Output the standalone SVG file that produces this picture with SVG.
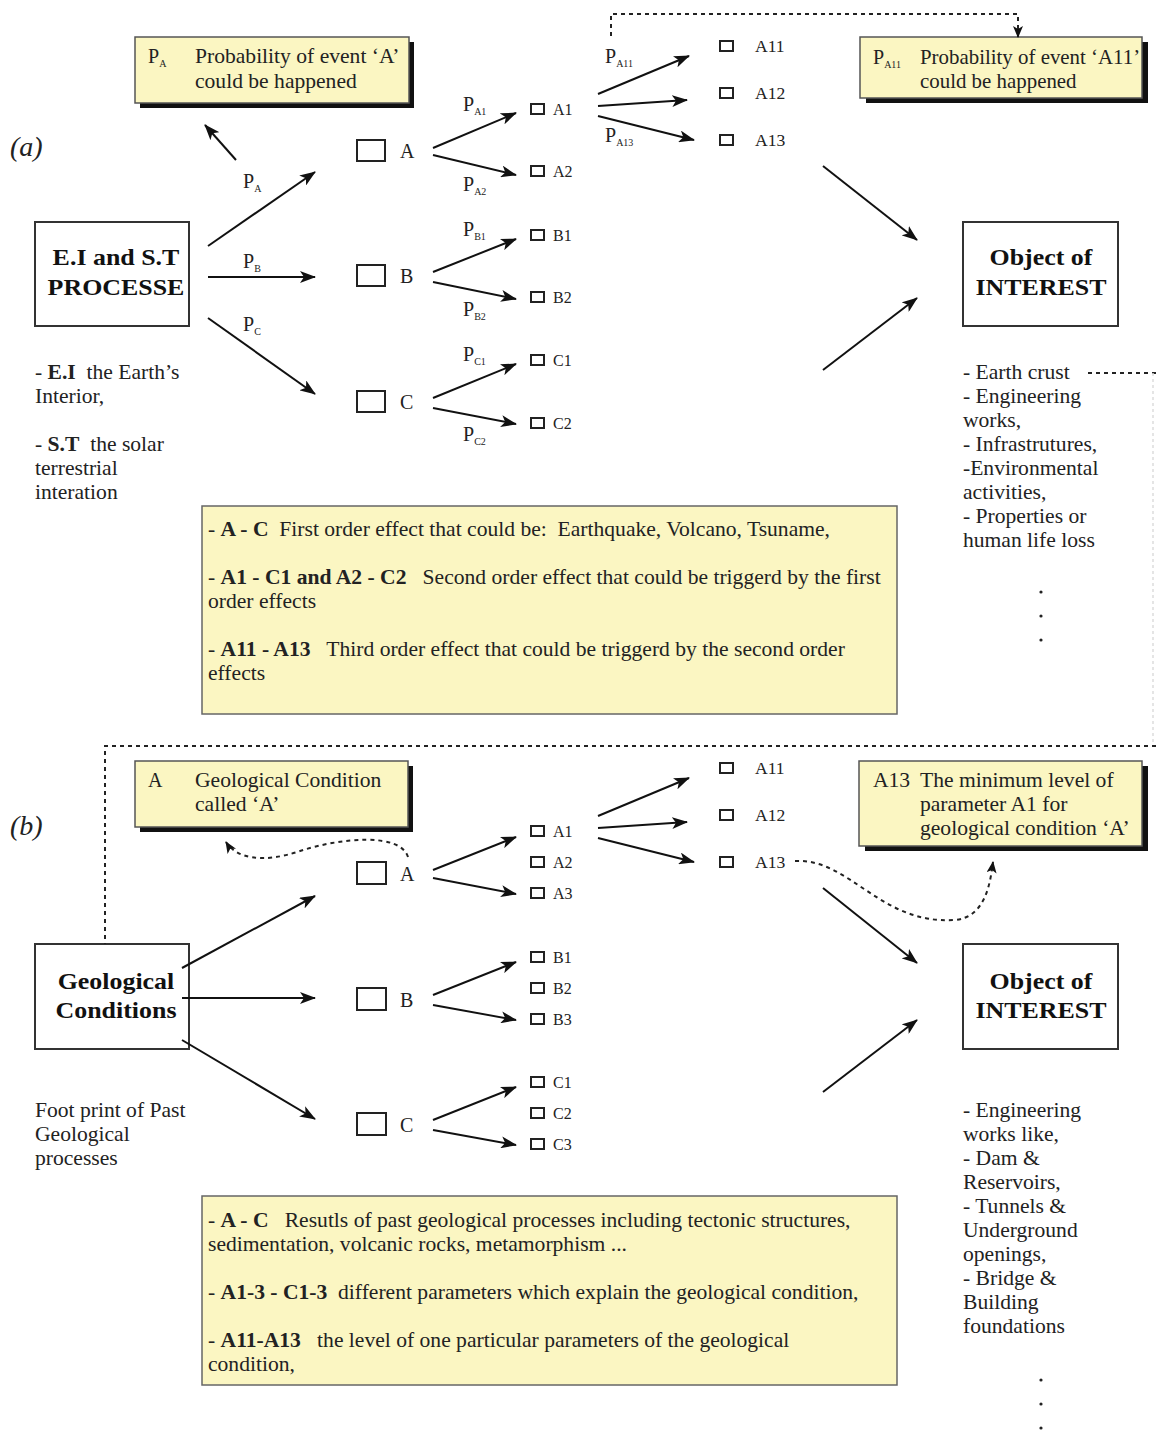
<svg xmlns="http://www.w3.org/2000/svg" width="1156" height="1430" viewBox="0 0 1156 1430" xml:space="preserve">
  <defs>
    <marker id="arr" markerUnits="userSpaceOnUse" markerWidth="16" markerHeight="12" refX="15" refY="6" orient="auto">
      <path d="M0,0 L16,6 L0,12 L4,6 z" fill="#111"/>
    </marker>
    <marker id="arrs" markerUnits="userSpaceOnUse" markerWidth="12" markerHeight="10" refX="11" refY="5" orient="auto">
      <path d="M0,0 L12,5 L0,10 L3,5 z" fill="#111"/>
    </marker>
  </defs>
  <style>
    text { font-family: "Liberation Serif", "Times New Roman", serif; fill: #222; white-space: pre; }
    .t20 { font-size: 20px; }
    .t16 { font-size: 16px; }
    .big { font-size: 24px; font-weight: bold; text-anchor: middle; fill: #111; }
    .b { font-weight: bold; }
    .sub { font-size: 10px; }
    .lbl { font-size: 28px; font-style: italic; }
    .box { fill: #fff; stroke: #333; stroke-width: 2; }
    .sq { fill: #fff; stroke: #222; stroke-width: 2; }
    .note { fill: #fbf6c2; stroke: #555; stroke-width: 1.5; }
    .shadow { fill: #111; }
    .legend { fill: #fbf6c2; stroke: #666; stroke-width: 1.5; }
    .edge { stroke: #111; stroke-width: 2; fill: none; marker-end: url(#arr); }
    .dot { stroke: #222; stroke-width: 2; fill: none; stroke-dasharray: 4 4; }
    .faint { stroke: #ddd; stroke-width: 1.5; fill: none; stroke-dasharray: 3 3; }
  </style>

  <rect width="1156" height="1430" fill="#fff"/>

  <!-- ===== Part (a) ===== -->
  <text class="lbl" x="10" y="156">(a)</text>

  <g id="note-pa">
    <rect class="shadow" x="140" y="42" width="274" height="66"/>
    <rect class="note" x="135" y="37" width="274" height="66"/>
    <text class="t20" x="148" y="63">P<tspan class="sub" dy="4">A</tspan></text>
    <g transform="matrix(1.08 0 0 1 -15.6 0)">
      <text class="t20" x="195" y="63">Probability of event ‘A’</text>
      <text class="t20" x="195" y="88">could be happened</text>
    </g>
  </g>

  <g id="note-pa11">
    <rect class="shadow" x="866" y="42" width="282" height="61"/>
    <rect class="note" x="860" y="37" width="282" height="61"/>
    <text class="t20" x="873" y="64">P<tspan class="sub" dy="4">A11</tspan></text>
    <g transform="matrix(1.045 0 0 1 -41.4 0)">
      <text class="t20" x="920" y="64">Probability of event ‘A11’</text>
      <text class="t20" x="920" y="88">could be happened</text>
    </g>
  </g>

  <g id="proc-a">
    <rect class="box" x="35" y="222" width="154" height="104"/>
    <g transform="matrix(1.08 0 0 1 -9.28 0)">
      <text class="big" x="116" y="265">E.I and S.T</text>
      <text class="big" x="116" y="295">PROCESSE</text>
    </g>
  </g>

  <g id="proc-a-desc" transform="matrix(1.08 0 0 1 -2.8 0)">
    <text class="t20" x="35" y="379">- <tspan class="b">E.I</tspan>  the Earth’s</text>
    <text class="t20" x="35" y="403">Interior,</text>
    <text class="t20" x="35" y="451">- <tspan class="b">S.T</tspan>  the solar</text>
    <text class="t20" x="35" y="475">terrestrial</text>
    <text class="t20" x="35" y="499">interation</text>
  </g>

  <g id="a-A"><rect class="sq" x="357" y="140" width="28" height="21"/><text class="t20" x="400" y="158">A</text></g>
  <g id="a-B"><rect class="sq" x="357" y="265" width="28" height="21"/><text class="t20" x="400" y="283">B</text></g>
  <g id="a-C"><rect class="sq" x="357" y="391" width="28" height="21"/><text class="t20" x="400" y="409">C</text></g>

  <g id="a-A1"><rect class="sq" x="531" y="104" width="13" height="10"/><text class="t16" x="553" y="115">A1</text></g>
  <g id="a-A2"><rect class="sq" x="531" y="166" width="13" height="10"/><text class="t16" x="553" y="177">A2</text></g>
  <g id="a-B1"><rect class="sq" x="531" y="230" width="13" height="10"/><text class="t16" x="553" y="241">B1</text></g>
  <g id="a-B2"><rect class="sq" x="531" y="292" width="13" height="10"/><text class="t16" x="553" y="303">B2</text></g>
  <g id="a-C1"><rect class="sq" x="531" y="355" width="13" height="10"/><text class="t16" x="553" y="366">C1</text></g>
  <g id="a-C2"><rect class="sq" x="531" y="418" width="13" height="10"/><text class="t16" x="553" y="429">C2</text></g>

  <g id="a-A11"><rect class="sq" x="720" y="41" width="13" height="10"/><text class="t16" x="755" y="52" transform="matrix(1.1 0 0 1 -75.5 0)">A11</text></g>
  <g id="a-A12"><rect class="sq" x="720" y="88" width="13" height="10"/><text class="t16" x="755" y="99" transform="matrix(1.1 0 0 1 -75.5 0)">A12</text></g>
  <g id="a-A13"><rect class="sq" x="720" y="135" width="13" height="10"/><text class="t16" x="755" y="146" transform="matrix(1.1 0 0 1 -75.5 0)">A13</text></g>

  <g id="object-a">
    <rect class="box" x="963" y="222" width="155" height="104"/>
    <g transform="matrix(1.08 0 0 1 -83.28 0)">
      <text class="big" x="1041" y="265">Object of</text>
      <text class="big" x="1041" y="295">INTEREST</text>
    </g>
  </g>

  <g id="object-a-desc">
    <g transform="matrix(1.08 0 0 1 -77.04 0)">
      <text class="t20" x="963" y="379">- Earth crust</text>
      <text class="t20" x="963" y="403">- Engineering</text>
      <text class="t20" x="963" y="427">works,</text>
      <text class="t20" x="963" y="451">- Infrastrutures,</text>
      <text class="t20" x="963" y="475">-Environmental</text>
      <text class="t20" x="963" y="499">activities,</text>
      <text class="t20" x="963" y="523">- Properties or</text>
      <text class="t20" x="963" y="547">human life loss</text>
    </g>
    <circle cx="1041" cy="592" r="1.6" fill="#222"/>
    <circle cx="1041" cy="616" r="1.6" fill="#222"/>
    <circle cx="1041" cy="640" r="1.6" fill="#222"/>
  </g>

  <g id="legend-a">
    <rect class="legend" x="202" y="506" width="695" height="208"/>
    <g transform="matrix(1.08 0 0 1 -16.64 0)">
      <text class="t20" x="208" y="536">- <tspan class="b">A - C</tspan>  First order effect that could be:  Earthquake, Volcano, Tsuname,</text>
      <text class="t20" x="208" y="584">- <tspan class="b">A1 - C1 and A2 - C2</tspan>   Second order effect that could be triggerd by the first</text>
      <text class="t20" x="208" y="608">order effects</text>
      <text class="t20" x="208" y="656">- <tspan class="b">A11 - A13</tspan>   Third order effect that could be triggerd by the second order</text>
      <text class="t20" x="208" y="680">effects</text>
    </g>
  </g>

  <!-- probability labels -->
  <g id="labels-a">
    <text class="t20" x="243" y="188">P<tspan class="sub" dy="4">A</tspan></text>
    <text class="t20" x="243" y="268">P<tspan class="sub" dy="4">B</tspan></text>
    <text class="t20" x="243" y="331">P<tspan class="sub" dy="4">C</tspan></text>
    <text class="t20" x="463" y="111">P<tspan class="sub" dy="4">A1</tspan></text>
    <text class="t20" x="463" y="191">P<tspan class="sub" dy="4">A2</tspan></text>
    <text class="t20" x="463" y="236">P<tspan class="sub" dy="4">B1</tspan></text>
    <text class="t20" x="463" y="316">P<tspan class="sub" dy="4">B2</tspan></text>
    <text class="t20" x="463" y="361">P<tspan class="sub" dy="4">C1</tspan></text>
    <text class="t20" x="463" y="441">P<tspan class="sub" dy="4">C2</tspan></text>
    <text class="t20" x="605" y="63">P<tspan class="sub" dy="4">A11</tspan></text>
    <text class="t20" x="605" y="142">P<tspan class="sub" dy="4">A13</tspan></text>
  </g>

  <!-- ===== Part (b) ===== -->
  <text class="lbl" x="10" y="835">(b)</text>

  <g id="note-geo">
    <rect class="shadow" x="140" y="766" width="273" height="66"/>
    <rect class="note" x="135" y="761" width="273" height="66"/>
    <text class="t20" x="148" y="787">A</text>
    <g transform="matrix(1.08 0 0 1 -15.6 0)">
      <text class="t20" x="195" y="787">Geological Condition</text>
      <text class="t20" x="195" y="811">called ‘A’</text>
    </g>
  </g>

  <g id="note-a13">
    <rect class="shadow" x="865" y="766" width="283" height="85"/>
    <rect class="note" x="859" y="761" width="283" height="85"/>
    <text class="t20" x="873" y="787" transform="matrix(1.08 0 0 1 -69.84 0)">A13</text>
    <g transform="matrix(1.08 0 0 1 -73.6 0)">
      <text class="t20" x="920" y="787">The minimum level of</text>
      <text class="t20" x="920" y="811">parameter A1 for</text>
      <text class="t20" x="920" y="835">geological condition ‘A’</text>
    </g>
  </g>

  <g id="geo-b">
    <rect class="box" x="35" y="944" width="154" height="105"/>
    <g transform="matrix(1.08 0 0 1 -9.28 0)">
      <text class="big" x="116" y="989">Geological</text>
      <text class="big" x="116" y="1018">Conditions</text>
    </g>
  </g>

  <g id="geo-b-desc" transform="matrix(1.08 0 0 1 -2.8 0)">
    <text class="t20" x="35" y="1117">Foot print of Past</text>
    <text class="t20" x="35" y="1141">Geological</text>
    <text class="t20" x="35" y="1165">processes</text>
  </g>

  <g id="b-A"><rect class="sq" x="357" y="862" width="29" height="22"/><text class="t20" x="400" y="881">A</text></g>
  <g id="b-B"><rect class="sq" x="357" y="988" width="29" height="22"/><text class="t20" x="400" y="1007">B</text></g>
  <g id="b-C"><rect class="sq" x="357" y="1113" width="29" height="22"/><text class="t20" x="400" y="1132">C</text></g>

  <g id="b-A1"><rect class="sq" x="531" y="826" width="13" height="10"/><text class="t16" x="553" y="837">A1</text></g>
  <g id="b-A2"><rect class="sq" x="531" y="857" width="13" height="10"/><text class="t16" x="553" y="868">A2</text></g>
  <g id="b-A3"><rect class="sq" x="531" y="888" width="13" height="10"/><text class="t16" x="553" y="899">A3</text></g>
  <g id="b-B1"><rect class="sq" x="531" y="952" width="13" height="10"/><text class="t16" x="553" y="963">B1</text></g>
  <g id="b-B2"><rect class="sq" x="531" y="983" width="13" height="10"/><text class="t16" x="553" y="994">B2</text></g>
  <g id="b-B3"><rect class="sq" x="531" y="1014" width="13" height="10"/><text class="t16" x="553" y="1025">B3</text></g>
  <g id="b-C1"><rect class="sq" x="531" y="1077" width="13" height="10"/><text class="t16" x="553" y="1088">C1</text></g>
  <g id="b-C2"><rect class="sq" x="531" y="1108" width="13" height="10"/><text class="t16" x="553" y="1119">C2</text></g>
  <g id="b-C3"><rect class="sq" x="531" y="1139" width="13" height="10"/><text class="t16" x="553" y="1150">C3</text></g>

  <g id="b-A11"><rect class="sq" x="720" y="763" width="13" height="10"/><text class="t16" x="755" y="774" transform="matrix(1.1 0 0 1 -75.5 0)">A11</text></g>
  <g id="b-A12"><rect class="sq" x="720" y="810" width="13" height="10"/><text class="t16" x="755" y="821" transform="matrix(1.1 0 0 1 -75.5 0)">A12</text></g>
  <g id="b-A13"><rect class="sq" x="720" y="857" width="13" height="10"/><text class="t16" x="755" y="868" transform="matrix(1.1 0 0 1 -75.5 0)">A13</text></g>

  <g id="object-b">
    <rect class="box" x="963" y="944" width="155" height="105"/>
    <g transform="matrix(1.08 0 0 1 -83.28 0)">
      <text class="big" x="1041" y="989">Object of</text>
      <text class="big" x="1041" y="1018">INTEREST</text>
    </g>
  </g>

  <g id="object-b-desc">
    <g transform="matrix(1.08 0 0 1 -77.04 0)">
      <text class="t20" x="963" y="1117">- Engineering</text>
      <text class="t20" x="963" y="1141">works like,</text>
      <text class="t20" x="963" y="1165">- Dam &amp;</text>
      <text class="t20" x="963" y="1189">Reservoirs,</text>
      <text class="t20" x="963" y="1213">- Tunnels &amp;</text>
      <text class="t20" x="963" y="1237">Underground</text>
      <text class="t20" x="963" y="1261">openings,</text>
      <text class="t20" x="963" y="1285">- Bridge &amp;</text>
      <text class="t20" x="963" y="1309">Building</text>
      <text class="t20" x="963" y="1333">foundations</text>
    </g>
    <circle cx="1041" cy="1380" r="1.6" fill="#222"/>
    <circle cx="1041" cy="1404" r="1.6" fill="#222"/>
    <circle cx="1041" cy="1428" r="1.6" fill="#222"/>
  </g>

  <g id="legend-b">
    <rect class="legend" x="202" y="1196" width="695" height="189"/>
    <g transform="matrix(1.08 0 0 1 -16.64 0)">
      <text class="t20" x="208" y="1227">- <tspan class="b">A - C</tspan>   Resutls of past geological processes including tectonic structures,</text>
      <text class="t20" x="208" y="1251">sedimentation, volcanic rocks, metamorphism ...</text>
      <text class="t20" x="208" y="1299">- <tspan class="b">A1-3 - C1-3</tspan>  different parameters which explain the geological condition,</text>
      <text class="t20" x="208" y="1347">- <tspan class="b">A11-A13</tspan>   the level of one particular parameters of the geological</text>
      <text class="t20" x="208" y="1371">condition,</text>
    </g>
  </g>

  <!-- ===== Connectors ===== -->
  <g id="connectors">
    <!-- part (a) -->
    <line class="edge" x1="236" y1="160" x2="205" y2="125"/>
    <line class="edge" x1="208" y1="246" x2="315" y2="172"/>
    <line class="edge" x1="208" y1="277" x2="315" y2="277"/>
    <line class="edge" x1="208" y1="318" x2="315" y2="394"/>
    <line class="edge" x1="433" y1="148" x2="516" y2="113"/>
    <line class="edge" x1="433" y1="155" x2="516" y2="175"/>
    <line class="edge" x1="433" y1="272" x2="516" y2="239"/>
    <line class="edge" x1="433" y1="282" x2="516" y2="299"/>
    <line class="edge" x1="433" y1="398" x2="516" y2="364"/>
    <line class="edge" x1="433" y1="408" x2="516" y2="424"/>
    <line class="edge" x1="598" y1="94" x2="689" y2="56"/>
    <line class="edge" x1="598" y1="106" x2="687" y2="100"/>
    <line class="edge" x1="598" y1="116" x2="694" y2="140"/>
    <line class="edge" x1="823" y1="166" x2="917" y2="240"/>
    <line class="edge" x1="823" y1="370" x2="917" y2="298"/>
    <polyline class="dot" points="611,36 611,14 1018,14 1018,28"/>
    <line stroke="#222" stroke-width="2" x1="1018" y1="28" x2="1018" y2="37" marker-end="url(#arrs)"/>
    <line class="dot" x1="1088" y1="373" x2="1156" y2="373"/>
    <line class="faint" x1="1153" y1="373" x2="1153" y2="746"/>

    <!-- part (b) -->
    <polyline class="dot" points="1156,746 105,746 105,944"/>
    <line class="edge" x1="182" y1="968" x2="315" y2="896"/>
    <line class="edge" x1="182" y1="998" x2="315" y2="998"/>
    <line class="edge" x1="182" y1="1040" x2="315" y2="1119"/>
    <line class="edge" x1="433" y1="870" x2="516" y2="837"/>
    <line class="edge" x1="433" y1="878" x2="516" y2="894"/>
    <line class="edge" x1="433" y1="995" x2="516" y2="962"/>
    <line class="edge" x1="433" y1="1005" x2="516" y2="1020"/>
    <line class="edge" x1="433" y1="1120" x2="516" y2="1087"/>
    <line class="edge" x1="433" y1="1130" x2="516" y2="1145"/>
    <line class="edge" x1="598" y1="816" x2="689" y2="778"/>
    <line class="edge" x1="598" y1="828" x2="687" y2="822"/>
    <line class="edge" x1="598" y1="838" x2="694" y2="862"/>
    <line class="edge" x1="823" y1="888" x2="917" y2="963"/>
    <line class="edge" x1="823" y1="1092" x2="917" y2="1020"/>
    <path class="dot" d="M408,857 C400,832 340,838 300,851 C262,864 236,858 226,842" marker-end="url(#arrs)"/>
    <path class="dot" d="M795,861 C850,858 880,925 955,920 C985,917 990,885 993,862" marker-end="url(#arrs)"/>
  </g>
</svg>
